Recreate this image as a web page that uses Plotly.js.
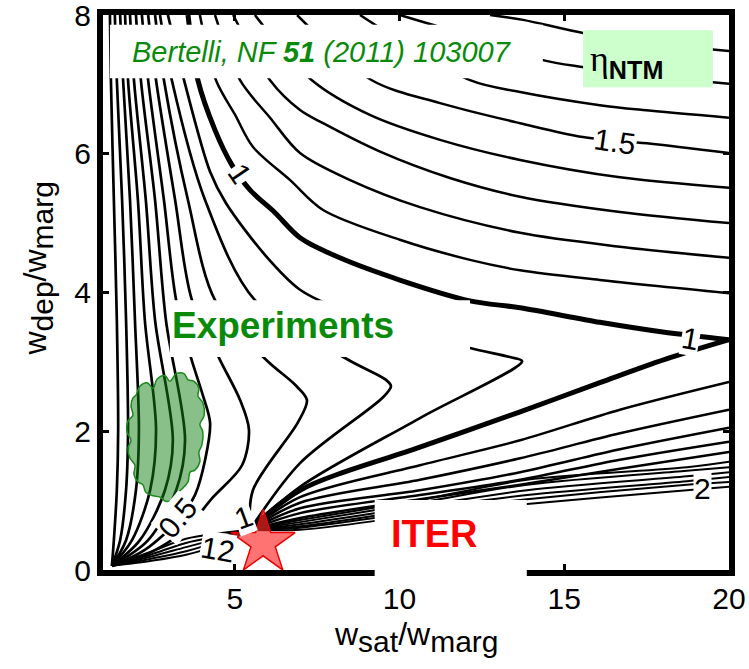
<!DOCTYPE html>
<html><head><meta charset="utf-8">
<script src="https://cdn.plot.ly/plotly-3.0.1.min.js"></script>
<style>html,body{margin:0;padding:0;background:#fff}</style>
</head><body><div id="chart" style="width:749px;height:669px"></div>
<script>
// ---- contour lines (w_sat/w_marg , w_dep/w_marg) ----
// left family: from the top down to the lower-left convergence point
const leftX = [
 [1.21,1.24,1.33,1.42,1.46,1.42,1.33,1.27],
 [1.36,1.42,1.58,1.70,1.76,1.70,1.52,1.27],
 [1.52,1.61,1.82,1.97,2.09,2.00,1.70,1.27],
 [1.67,1.76,2.06,2.27,2.61,2.43,1.88,1.27],
 [1.82,1.94,2.30,2.58,3.12,2.88,2.12,1.27],
 [2.00,2.15,2.58,2.91,3.49,3.22,2.37,1.27]
];
const leftY = [
 [8.00,7.06,5.33,3.60,2.02,1.15,0.43,0.06],
 [8.00,7.06,5.33,3.60,2.02,1.15,0.43,0.06],
 [8.00,7.06,5.33,3.60,2.02,1.15,0.43,0.06],
 [8.00,7.06,5.33,3.60,2.02,1.15,0.43,0.06],
 [8.00,7.06,5.33,3.60,1.87,1.15,0.43,0.06],
 [8.00,7.06,5.33,3.60,1.87,1.15,0.43,0.06]
];
// chevron family ("0.5" is the first one)
const chevX = [
 [2.18,2.37,2.85,3.22,3.67,4.03,4.25,4.10,3.79,3.28,2.27,1.27],
 [2.37,2.61,3.19,3.70,4.55,5.16,5.43,5.22,4.34,3.49,2.43,1.27],
 [2.58,2.85,3.58,4.40,5.95,6.83,7.19,6.92,5.55,5.46],
 [2.73,3.09,4.10,5.61,8.44,9.59,9.74,9.50,6.98,5.46],
 [2.97,3.46,4.25,4.73,5.92,6.98,7.89,10.01,12.14,13.35,13.72,10.62,6.98,5.46]
];
const chevY = [
 [8.00,7.06,5.33,3.89,3.06,2.52,2.12,1.59,1.08,0.72,0.29,0.06],
 [8.00,7.06,5.33,3.89,3.03,2.45,2.02,1.51,1.05,0.58,0.25,0.06],
 [8.00,7.06,5.33,3.89,3.03,2.67,2.45,2.13,1.15,0.58],
 [8.00,7.06,5.33,3.89,3.03,2.74,2.65,2.49,1.54,0.58],
 [8.00,7.06,5.74,5.29,4.54,4.04,3.82,3.50,3.20,3.07,3.01,2.19,1.20,0.58]
];
// upper family (top edge -> right edge); first is the eta = 1 contour
const upperX = [
 [3.58,3.88,4.40,4.91,5.46,6.22,6.98,8.19,10.01,12.14,13.66,16.08,17.99,20.00],
 [3.94,4.43,5.01,5.55,6.68,7.68,10.01,12.14,13.66,16.08,20.00],
 [4.40,5.16,6.07,6.98,8.50,10.62,13.66,16.69,20.00],
 [4.95,6.07,6.98,7.68,9.41,11.53,13.66,16.69,20.00],
 [5.61,7.34,9.10,11.23,13.66,16.69,20.00],
 [6.89,9.16,11.23,13.66,15.57,17.51,20.00],
 [8.80,12.14,13.66,16.08,17.39,20.00],
 [10.01,10.92,12.75,14.35,15.54,17.60,20.00],
 [12.75,13.75,15.57,17.60,20.00]
];
const upperY = [
 [8.00,7.06,6.34,5.84,5.48,5.15,4.79,4.50,4.18,3.88,3.78,3.57,3.43,3.32],
 [8.00,7.06,6.56,6.10,5.62,5.19,4.76,4.47,4.32,4.18,3.99],
 [8.00,7.06,6.52,6.01,5.62,5.23,4.86,4.66,4.50],
 [8.00,7.06,6.63,6.44,6.03,5.65,5.38,5.16,5.00],
 [8.00,7.06,6.56,6.20,5.91,5.66,5.51],
 [8.00,7.06,6.73,6.44,6.24,6.15,6.01],
 [8.00,7.06,6.89,6.70,6.63,6.52],
 [8.00,7.87,7.61,7.35,7.25,7.12,7.01],
 [8.00,7.93,7.74,7.60,7.48]
];
// fan family from the ITER-side convergence point to the right edge; first is eta = 1
const fanX = [
 [5.46,6.98,10.62,13.66,16.08,18.21,20.00],
 [5.46,6.98,10.62,13.66,16.69,20.00],
 [5.46,6.98,10.62,13.66,16.69,20.00],
 [5.46,6.98,10.62,13.66,16.69,20.00],
 [5.46,6.98,10.62,13.66,16.69,20.00],
 [5.46,6.98,10.62,13.66,16.69,20.00]
];
const fanY = [
 [0.58,1.15,1.77,2.28,2.70,3.06,3.32],
 [0.58,1.05,1.51,1.87,2.31,2.71],
 [0.58,0.97,1.30,1.61,1.97,2.31],
 [0.58,0.89,1.15,1.41,1.74,2.05],
 [0.58,0.82,1.08,1.30,1.59,1.85],
 [0.58,0.75,1.02,1.23,1.46,1.70]
];
// dense bundle (eta ~ 2) near the bottom
const bundleX = [5.46,6.98,10.62,13.87,18.72,20.00];
const bundleY = [
 [0.58,0.72,1.01,1.30,1.48,1.56],
 [0.58,0.69,0.97,1.23,1.43,1.48],
 [0.58,0.66,0.92,1.15,1.35,1.41],
 [0.58,0.63,0.88,1.08,1.28,1.34],
 [0.58,0.61,0.84,1.02,1.23,1.27],
 [0.58,0.58,0.79,0.95,1.15,1.20]
];
// wedge between the two convergence points (eta = 12 ...)
const wedgeX = [1.27,2.43,3.52,4.55,5.46];
const wedgeY = [
 [0.06,0.26,0.45,0.53,0.58],
 [0.06,0.22,0.39,0.49,0.58],
 [0.06,0.19,0.33,0.46,0.58],
 [0.06,0.16,0.27,0.42,0.58],
 [0.06,0.13,0.22,0.37,0.58]
];
// experiments cloud outline and ITER point
const cloudX = [2.00,2.12,2.34,2.52,2.64,2.88,3.03,3.22,3.46,3.58,3.76,3.91,3.88,4.03,4.07,3.94,4.03,4.00,3.91,3.94,3.79,3.64,3.58,3.40,3.28,3.15,2.91,2.73,2.52,2.30,2.21,2.06,1.94,1.97,1.82,1.76,1.85,1.73,1.76,1.91,1.85,1.91,2.00];
const cloudY = [2.52,2.65,2.70,2.62,2.75,2.80,2.72,2.83,2.83,2.74,2.72,2.62,2.51,2.41,2.23,2.10,1.99,1.80,1.70,1.56,1.44,1.41,1.27,1.17,1.12,1.02,0.99,1.05,1.07,1.12,1.23,1.27,1.38,1.51,1.61,1.76,1.87,1.99,2.15,2.23,2.36,2.48,2.52];
const iterX = [5.86];
const iterY = [0.39];
// contour labels
const labelText = ['1','1','1.5','2','0.5','12','1'];
const labelX = [5.16,18.82,16.54,19.21,3.28,4.49,5.25];
const labelY = [5.72,3.34,6.17,1.18,0.75,0.29,0.76];
const labelAngle = [56,10,8,0,-50,10,-20];
const xTicks = [5,10,15,20];
const yTicks = [0,2,4,6,8];

const traces = [];
function addLines(xs, ys, w, sharedX) {
  ys.forEach((yy, i) => {
    traces.push({type:'scatter', mode:'lines', x: sharedX ? xs : xs[i], y: yy,
      line:{color:'#000', width: (typeof w === 'function') ? w(i) : w, shape:'spline', smoothing:0.9},
      hoverinfo:'skip', showlegend:false});
  });
}
addLines(leftX, leftY, 2.7);
addLines(chevX, chevY, 2.7);
addLines(upperX, upperY, i => i === 0 ? 5 : 2.5);
addLines(fanX, fanY, i => i === 0 ? 5 : 2.5);
addLines(bundleX, bundleY, 2, true);
addLines(wedgeX, wedgeY, 2, true);
traces.push({type:'scatter', mode:'lines', x: cloudX, y: cloudY, fill:'toself',
  fillcolor:'rgba(20,130,20,0.5)', line:{color:'#1a8a1a', width:1.5, shape:'spline', smoothing:1},
  hoverinfo:'skip', showlegend:false});
traces.push({type:'scatter', mode:'markers', x: iterX, y: iterY,
  marker:{symbol:'star', size:48, color:'rgba(255,40,40,0.65)', line:{color:'#ee0000', width:1.5}},
  hoverinfo:'skip', showlegend:false});

const F = 'Liberation Sans, Arial, sans-serif';
const sub = s => '<sub><span style="font-size:30px">' + s + '</span></sub>';
const annotations = labelText.map((t, i) => ({
  x: labelX[i], y: labelY[i], text: t, showarrow:false, textangle: labelAngle[i],
  font:{family:F, size:30, color:'#000'}, bgcolor:'#fff', borderpad:0
}));
annotations.push(
 {x:1.82, y:7.47, xanchor:'left', text:'<i>Bertelli, NF <b>51</b> (2011) 103007</i>', showarrow:false,
  font:{family:F, size:29, color:'#0a8a0a'}},
 {x:6.46, y:3.53, text:'<b>Experiments</b>', showarrow:false, font:{family:F, size:37, color:'#0a8a0a'}},
 {x:11.05, y:0.52, text:'<b>ITER</b>', showarrow:false, font:{family:F, size:38, color:'#ff0000'}},
 {x:15.72, y:7.33, xanchor:'left', text:'η<sub><b><span style="font-family:Liberation Sans">NTM</span></b></sub>', showarrow:false,
  font:{family:'Liberation Serif, serif', size:36, color:'#000'}},
 // axis titles
 {xref:'paper', yref:'paper', x:0.5, y:-0.08, xanchor:'center', yanchor:'top', showarrow:false,
  text:'w' + sub('sat') + '/w' + sub('marg'), font:{family:F, size:32, color:'#000'}},
 {xref:'paper', yref:'paper', x:-0.103, y:0.544, xanchor:'center', yanchor:'middle', textangle:-90, showarrow:false,
  text:'w' + sub('dep') + '/w' + sub('marg'), font:{family:F, size:32, color:'#000'}}
);
const shapes = [
 {type:'rect', xref:'x', yref:'y', x0:1.21, x1:14.35, y0:7.09, y1:7.86, fillcolor:'#fff', line:{width:0}, layer:'above'},
 {type:'rect', xref:'x', yref:'y', x0:3.03, x1:12.14, y0:3.07, y1:3.89, fillcolor:'#fff', line:{width:0}, layer:'above'},
 {type:'rect', xref:'paper', yref:'paper', x0:0.434, x1:0.677, y0:-0.03, y1:0.126, fillcolor:'#fff', line:{width:0}, layer:'above'},
 {type:'rect', xref:'x', yref:'y', x0:15.57, x1:19.51, y0:6.96, y1:7.78, fillcolor:'#ccffcc', line:{width:0}, layer:'above'}
];

const axisCommon = {showgrid:false, zeroline:false, showline:true, linecolor:'#000', linewidth:6, mirror:'ticks',
  ticks:'inside', ticklen:6, tickwidth:3, tickcolor:'#000', ticklabeloverflow:'allow',
  tickfont:{family:F, size:30, color:'#000'}};
const layout = {
  width:749, height:669, margin:{l:103, r:20, t:15, b:99},
  paper_bgcolor:'#fff', plot_bgcolor:'#fff', showlegend:false,
  xaxis: Object.assign({}, axisCommon, {range:[1,20], tickvals:xTicks, ticktext:xTicks.map(String), ticklabelstandoff:-3}),
  yaxis: Object.assign({}, axisCommon, {range:[0,8], tickvals:yTicks, ticktext:yTicks.map(String)}),
  annotations, shapes
};
Plotly.newPlot('chart', traces, layout, {staticPlot:true, displayModeBar:false});
</script></body></html>
